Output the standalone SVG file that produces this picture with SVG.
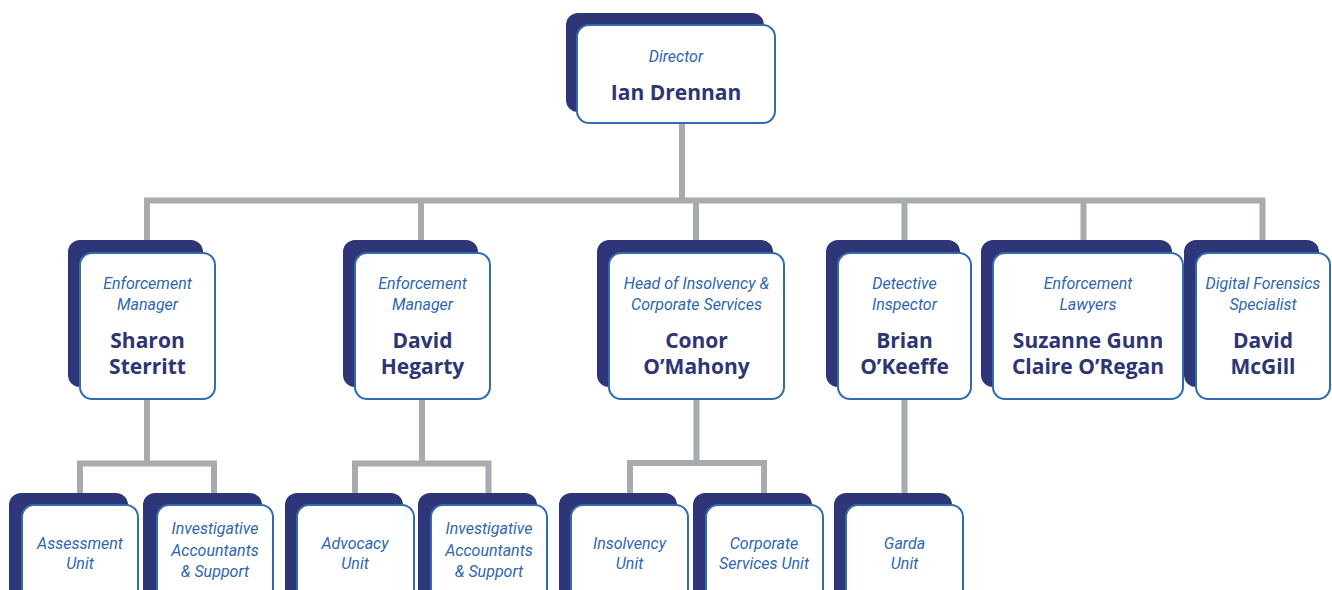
<svg xmlns="http://www.w3.org/2000/svg" width="1332" height="590" viewBox="0 0 1332 590">
<style>
.back{fill:#2f3677}
.front{fill:#ffffff;stroke:#2f6cb3;stroke-width:2}
.role{font-family:Roboto,"Liberation Sans",sans-serif;font-style:italic;font-size:16px;fill:#2f66b0;text-anchor:middle}
.name{font-family:"Open Sans","Liberation Sans",sans-serif;font-weight:bold;font-size:21px;fill:#2e3573;text-anchor:middle}
.conn{fill:none;stroke:#a7abae;stroke-width:6;stroke-linejoin:miter;stroke-linecap:butt}
</style>
<rect width="1332" height="590" fill="#ffffff"/>
<g id="connectors">
<path class="conn" d="M682 123V200.5M147 240V200.5H1262.5V240M421 200.5V240M696 200.5V240M904.5 200.5V240M1083.5 200.5V240"/>
<path class="conn" d="M147 399V463.5M80 493V463.5H214V493"/>
<path class="conn" d="M422 399V463.5M355 493V463.5H488.5V493"/>
<path class="conn" d="M696.5 399V463M630 493V463H764V493"/>
<path class="conn" d="M904.5 399V493"/>
</g>
<g id="director">
<rect class="back" x="566" y="13" width="198" height="99" rx="12"/>
<rect class="front" x="577" y="25" width="198" height="98" rx="12"/>
<text class="role" x="676" y="62">Director</text>
<text class="name" x="676" y="100">Ian Drennan</text>
</g>
<g id="sharon">
<rect class="back" x="68" y="240" width="135" height="147" rx="12"/>
<rect class="front" x="80" y="253" width="135" height="146" rx="12"/>
<text class="role" x="147.5" y="289">Enforcement</text>
<text class="role" x="147.5" y="310">Manager</text>
<text class="name" x="147.5" y="348">Sharon</text>
<text class="name" x="147.5" y="374">Sterritt</text>
</g>
<g id="david-hegarty">
<rect class="back" x="343" y="240" width="135" height="147" rx="12"/>
<rect class="front" x="355" y="253" width="135" height="146" rx="12"/>
<text class="role" x="422.5" y="289">Enforcement</text>
<text class="role" x="422.5" y="310">Manager</text>
<text class="name" x="422.5" y="348">David</text>
<text class="name" x="422.5" y="374">Hegarty</text>
</g>
<g id="conor">
<rect class="back" x="597" y="240" width="176" height="147" rx="12"/>
<rect class="front" x="609" y="253" width="175" height="146" rx="12"/>
<text class="role" x="696.5" y="289">Head of Insolvency &amp;</text>
<text class="role" x="696.5" y="310">Corporate Services</text>
<text class="name" x="696.5" y="348">Conor</text>
<text class="name" x="696.5" y="374">O’Mahony</text>
</g>
<g id="brian">
<rect class="back" x="826" y="240" width="134" height="147" rx="12"/>
<rect class="front" x="838" y="253" width="133" height="146" rx="12"/>
<text class="role" x="904.5" y="289">Detective</text>
<text class="role" x="904.5" y="310">Inspector</text>
<text class="name" x="904.5" y="348">Brian</text>
<text class="name" x="904.5" y="374">O’Keeffe</text>
</g>
<g id="lawyers">
<rect class="back" x="981" y="240" width="191" height="147" rx="12"/>
<rect class="front" x="993" y="253" width="190" height="146" rx="12"/>
<text class="role" x="1088" y="289">Enforcement</text>
<text class="role" x="1088" y="310">Lawyers</text>
<text class="name" x="1088" y="348">Suzanne Gunn</text>
<text class="name" x="1088" y="374">Claire O’Regan</text>
</g>
<g id="mcgill">
<rect class="back" x="1184" y="240" width="135" height="147" rx="12"/>
<rect class="front" x="1196" y="253" width="134" height="146" rx="12"/>
<text class="role" x="1263" y="289">Digital Forensics</text>
<text class="role" x="1263" y="310">Specialist</text>
<text class="name" x="1263" y="348">David</text>
<text class="name" x="1263" y="374">McGill</text>
</g>
<g id="assessment">
<rect class="back" x="9" y="493" width="119" height="120" rx="12"/>
<rect class="front" x="22" y="505" width="116" height="110" rx="12"/>
<text class="role" x="80" y="549">Assessment</text>
<text class="role" x="80" y="569">Unit</text>
</g>
<g id="investigative-1">
<rect class="back" x="143" y="493" width="119" height="120" rx="12"/>
<rect class="front" x="157" y="505" width="116" height="110" rx="12"/>
<text class="role" x="215" y="534">Investigative</text>
<text class="role" x="215" y="556">Accountants</text>
<text class="role" x="215" y="577">&amp; Support</text>
</g>
<g id="advocacy">
<rect class="back" x="285" y="493" width="118" height="120" rx="12"/>
<rect class="front" x="297" y="505" width="117" height="110" rx="12"/>
<text class="role" x="355" y="549">Advocacy</text>
<text class="role" x="355" y="569">Unit</text>
</g>
<g id="investigative-2">
<rect class="back" x="418" y="493" width="119" height="120" rx="12"/>
<rect class="front" x="431" y="505" width="116" height="110" rx="12"/>
<text class="role" x="489" y="534">Investigative</text>
<text class="role" x="489" y="556">Accountants</text>
<text class="role" x="489" y="577">&amp; Support</text>
</g>
<g id="insolvency">
<rect class="back" x="559" y="493" width="118" height="120" rx="12"/>
<rect class="front" x="571" y="505" width="117" height="110" rx="12"/>
<text class="role" x="629.5" y="549">Insolvency</text>
<text class="role" x="629.5" y="569">Unit</text>
</g>
<g id="corporate">
<rect class="back" x="693" y="493" width="119" height="120" rx="12"/>
<rect class="front" x="706" y="505" width="117" height="110" rx="12"/>
<text class="role" x="764" y="549">Corporate</text>
<text class="role" x="764" y="569">Services Unit</text>
</g>
<g id="garda">
<rect class="back" x="834" y="493" width="118" height="120" rx="12"/>
<rect class="front" x="846" y="505" width="117" height="110" rx="12"/>
<text class="role" x="904.5" y="549">Garda</text>
<text class="role" x="904.5" y="569">Unit</text>
</g>
</svg>
